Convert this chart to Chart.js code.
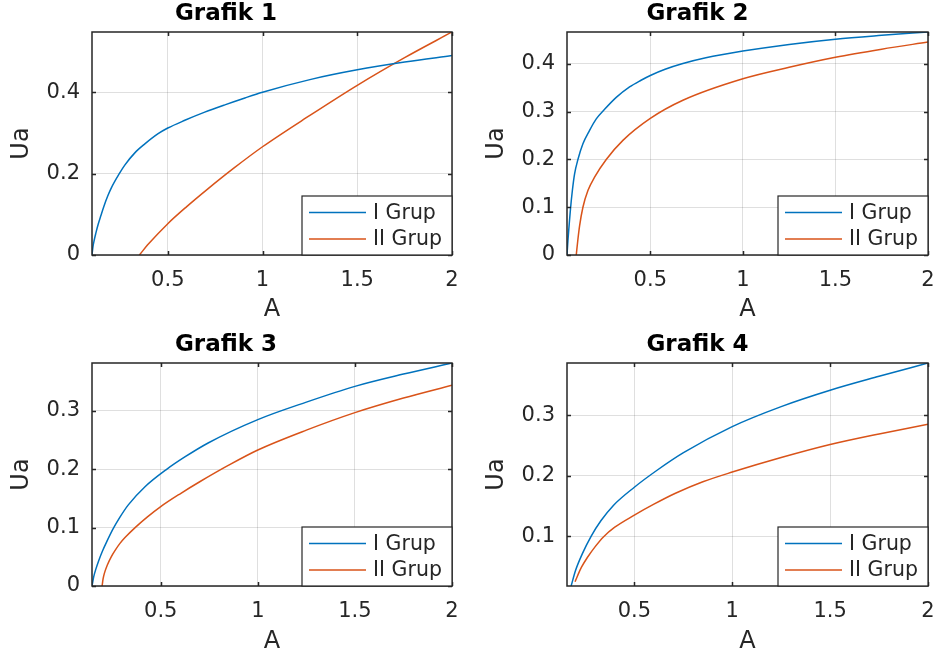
<!DOCTYPE html>
<html>
<head>
<meta charset="utf-8">
<title>Grafik</title>
<script src="https://cdn.jsdelivr.net/npm/chart.js@4.4.1/dist/chart.umd.min.js"></script>
<style>
  body { margin: 0; background: #fff; }
  #wrap { position: relative; width: 935px; height: 659px; overflow: hidden; }
  canvas { position: absolute; }
</style>
</head>
<body>
<div id="wrap">
  <canvas id="g1" width="467" height="330" style="left:0;top:0"></canvas>
  <canvas id="g2" width="468" height="330" style="left:467px;top:0"></canvas>
  <canvas id="g3" width="467" height="329" style="left:0;top:330px"></canvas>
  <canvas id="g4" width="468" height="329" style="left:467px;top:330px"></canvas>
</div>
<script>
// series names
const seriesNames = ["I Grup", "II Grup"];

// Grafik 1
const g1_x_I  = [0.1, 0.105, 0.111, 0.12, 0.133, 0.147, 0.163, 0.183, 0.204, 0.244, 0.273, 0.326, 0.379, 0.449, 0.5, 0.59, 0.695, 0.801, 0.907, 1.0, 1.25, 1.5, 1.75, 2.0];
const g1_y_I  = [0, 0.02, 0.035, 0.053, 0.076, 0.097, 0.12, 0.145, 0.167, 0.2, 0.221, 0.251, 0.273, 0.298, 0.312, 0.331, 0.351, 0.369, 0.386, 0.4, 0.431, 0.455, 0.474, 0.49];
const g1_x_II = [0.35, 0.4, 0.5, 0.6, 0.71, 0.85, 1.0, 1.25, 1.5, 1.75, 2.0];
const g1_y_II = [0, 0.028, 0.077, 0.119, 0.162, 0.214, 0.266, 0.343, 0.417, 0.485, 0.548];
const g1_xRange = [0.1, 2];
const g1_yRange = [0, 0.548];
const g1_xTicks = [0.5, 1, 1.5, 2];
const g1_yTicks = [0, 0.2, 0.4];

// Grafik 2
const g2_x_I  = [0.05, 0.055, 0.061, 0.068, 0.079, 0.091, 0.109, 0.136, 0.172, 0.208, 0.253, 0.316, 0.388, 0.45, 0.5, 0.58, 0.676, 0.8, 1.0, 1.25, 1.5, 1.75, 2.0];
const g2_y_I  = [0, 0.03, 0.06, 0.093, 0.135, 0.17, 0.2, 0.233, 0.261, 0.285, 0.305, 0.33, 0.352, 0.366, 0.376, 0.389, 0.401, 0.413, 0.427, 0.441, 0.452, 0.46, 0.467];
const g2_x_II = [0.1, 0.109, 0.118, 0.136, 0.163, 0.199, 0.262, 0.352, 0.5, 0.676, 1.0, 1.25, 1.5, 1.75, 2.0];
const g2_y_II = [0, 0.033, 0.061, 0.1, 0.135, 0.163, 0.2, 0.24, 0.286, 0.324, 0.369, 0.393, 0.414, 0.431, 0.446];
const g2_xRange = [0.05, 2];
const g2_yRange = [0, 0.467];
const g2_xTicks = [0.5, 1, 1.5, 2];
const g2_yTicks = [0, 0.1, 0.2, 0.3, 0.4];

// Grafik 3
const g3_x_I  = [0.146, 0.155, 0.165, 0.18, 0.2, 0.222, 0.253, 0.29, 0.333, 0.419, 0.527, 0.624, 0.744, 1.0, 1.25, 1.5, 1.75, 2.0];
const g3_y_I  = [0, 0.016, 0.028, 0.043, 0.06, 0.076, 0.097, 0.118, 0.139, 0.17, 0.199, 0.221, 0.245, 0.285, 0.315, 0.342, 0.363, 0.382];
const g3_x_II = [0.198, 0.203, 0.21, 0.225, 0.245, 0.265, 0.29, 0.316, 0.368, 0.43, 0.5, 0.6, 0.703, 0.85, 1.0, 1.25, 1.5, 1.75, 2.0];
const g3_y_II = [0, 0.012, 0.022, 0.036, 0.05, 0.061, 0.073, 0.083, 0.1, 0.118, 0.136, 0.158, 0.179, 0.207, 0.233, 0.267, 0.297, 0.322, 0.344];
const g3_xRange = [0.146, 2];
const g3_yRange = [0, 0.382];
const g3_xTicks = [0.5, 1, 1.5, 2];
const g3_yTicks = [0, 0.1, 0.2, 0.3];

// Grafik 4
const g4_x_I  = [0.177, 0.2, 0.234, 0.279, 0.33, 0.393, 0.5, 0.616, 0.751, 1.0, 1.25, 1.5, 1.75, 2.0];
const g4_y_I  = [0.018, 0.044, 0.071, 0.1, 0.126, 0.151, 0.181, 0.209, 0.238, 0.281, 0.314, 0.341, 0.364, 0.386];
const g4_x_II = [0.197, 0.21, 0.23, 0.26, 0.3, 0.342, 0.4, 0.5, 0.6, 0.71, 0.85, 1.0, 1.25, 1.5, 1.75, 2.0];
const g4_y_II = [0.025, 0.035, 0.049, 0.065, 0.083, 0.099, 0.115, 0.135, 0.153, 0.171, 0.19, 0.206, 0.23, 0.2515, 0.269, 0.285];
const g4_xRange = [0.156, 2];
const g4_yRange = [0.018, 0.386];
const g4_xTicks = [0.5, 1, 1.5, 2];
const g4_yTicks = [0.1, 0.2, 0.3];

const BLUE = "#0072BD";
const ORANGE = "#D95319";
const AXIS = "#262626";
const FONT = "'DejaVu Sans', sans-serif";

const toPoints = (xs, ys) => xs.map((x, i) => ({ x: x, y: ys[i] }));

// matlab-like box with inward ticks + legend inside lower right corner
const boxAndLegend = {
  id: "boxAndLegend",
  afterDatasetsDraw(chart) {
    const { ctx, chartArea: a, scales } = chart;
    const sx = scales.x, sy = scales.y;
    ctx.save();
    ctx.strokeStyle = AXIS;
    ctx.lineWidth = 1.5;
    ctx.beginPath();
    sx.ticks.forEach(t => {
      const px = Math.round(sx.getPixelForValue(t.value)) + 0.5;
      ctx.moveTo(px, a.bottom); ctx.lineTo(px, a.bottom - 4);
      ctx.moveTo(px, a.top); ctx.lineTo(px, a.top + 4);
    });
    sy.ticks.forEach(t => {
      const py = Math.round(sy.getPixelForValue(t.value)) + 0.5;
      ctx.moveTo(a.left, py); ctx.lineTo(a.left + 4, py);
      ctx.moveTo(a.right, py); ctx.lineTo(a.right - 4, py);
    });
    ctx.stroke();
    ctx.strokeRect(a.left, a.top, a.right - a.left, a.bottom - a.top);

    // legend
    const w = 150, h = 59;
    const lx = a.right - w, ly = a.bottom - h;
    ctx.fillStyle = "#fff";
    ctx.fillRect(lx, ly, w, h);
    ctx.lineWidth = 1.2;
    ctx.strokeRect(lx, ly, w, h);
    ctx.font = "20.5px " + FONT;
    ctx.textBaseline = "middle";
    ctx.textAlign = "left";
    chart.data.datasets.forEach((ds, i) => {
      const yy = ly + 16.5 + i * 26.5;
      ctx.strokeStyle = ds.borderColor;
      ctx.lineWidth = 1.5;
      ctx.beginPath();
      ctx.moveTo(lx + 7, yy); ctx.lineTo(lx + 64, yy);
      ctx.stroke();
      ctx.fillStyle = AXIS;
      ctx.fillText(ds.label, lx + 71, yy + 1);
    });
    ctx.restore();
  }
};

function makePlot(id, title, xI, yI, xII, yII, xRange, yRange, xTicks, yTicks, lay) {
  const ctx = document.getElementById(id).getContext("2d");
  const titleSize = 23, axisSize = 24;
  const tLh = titleSize * 1.2, aLh = axisSize * 1.2;
  return new Chart(ctx, {
    type: "line",
    data: {
      datasets: [
        { label: seriesNames[0], data: toPoints(xI, yI), borderColor: BLUE, borderWidth: 1.5,
          pointRadius: 0, cubicInterpolationMode: "monotone", fill: false },
        { label: seriesNames[1], data: toPoints(xII, yII), borderColor: ORANGE, borderWidth: 1.5,
          pointRadius: 0, cubicInterpolationMode: "monotone", fill: false }
      ]
    },
    options: {
      responsive: false,
      animation: false,
      events: [],
      layout: { padding: { left: 0, right: lay.padRight, top: 0, bottom: 0 } },
      plugins: {
        legend: { display: false },
        tooltip: { enabled: false },
        title: {
          display: true,
          text: title,
          color: "#000",
          font: { family: FONT, size: titleSize, weight: "bold", lineHeight: 1.2 },
          padding: { top: lay.titleC - tLh / 2, bottom: lay.titleH - tLh - (lay.titleC - tLh / 2) }
        }
      },
      scales: {
        x: {
          type: "linear",
          min: xRange[0],
          max: xRange[1],
          afterBuildTicks: s => { s.ticks = xTicks.map(v => ({ value: v })); },
          afterFit: s => { s.height = lay.xH; },
          // label gap done with an invisible tick so it does not widen the side padding
          ticks: { color: AXIS, font: { family: FONT, size: 21 }, padding: 0, maxRotation: 0,
                   autoSkip: false, callback: v => String(v) },
          grid: { color: "rgba(38,38,38,0.15)", lineWidth: 1, drawTicks: true, tickLength: 13,
                  tickColor: "rgba(0,0,0,0)" },
          border: { display: false },
          title: { display: true, text: "A", color: AXIS, font: { family: FONT, size: axisSize, lineHeight: 1.2 },
                   padding: { top: 0, bottom: lay.xH - lay.xTitleC - aLh / 2 } }
        },
        y: {
          type: "linear",
          min: yRange[0],
          max: yRange[1],
          afterBuildTicks: s => { s.ticks = yTicks.map(v => ({ value: v })); },
          afterFit: s => { s.width = lay.yW; },
          ticks: { color: AXIS, font: { family: FONT, size: 21 }, padding: 12, autoSkip: false,
                   callback: v => String(v) },
          grid: { color: "rgba(38,38,38,0.15)", lineWidth: 1, drawTicks: false },
          border: { display: false },
          title: { display: true, text: "Ua", color: AXIS, font: { family: FONT, size: axisSize, lineHeight: 1.2 },
                   padding: { top: lay.yTitleC - aLh / 2, bottom: 0 } }
        }
      }
    },
    plugins: [boxAndLegend]
  });
}

// lay: titleC = title centre from canvas top, xTitleC = "A" centre below plot bottom, yTitleC = "Ua" centre from canvas left
makePlot("g1", "Grafik 1", g1_x_I, g1_y_I, g1_x_II, g1_y_II, g1_xRange, g1_yRange, g1_xTicks, g1_yTicks,
  { padRight: 15, titleC: 14, titleH: 32, xH: 75, xTitleC: 55, yW: 92, yTitleC: 21.7 });
makePlot("g2", "Grafik 2", g2_x_I, g2_y_I, g2_x_II, g2_y_II, g2_xRange, g2_yRange, g2_xTicks, g2_yTicks,
  { padRight: 7, titleC: 14, titleH: 32, xH: 75, xTitleC: 55, yW: 100, yTitleC: 29.7 });
makePlot("g3", "Grafik 3", g3_x_I, g3_y_I, g3_x_II, g3_y_II, g3_xRange, g3_yRange, g3_xTicks, g3_yTicks,
  { padRight: 15, titleC: 15.3, titleH: 33, xH: 73, xTitleC: 56, yW: 92, yTitleC: 22 });
makePlot("g4", "Grafik 4", g4_x_I, g4_y_I, g4_x_II, g4_y_II, g4_xRange, g4_yRange, g4_xTicks, g4_yTicks,
  { padRight: 7, titleC: 15.3, titleH: 33, xH: 73, xTitleC: 56, yW: 100, yTitleC: 30 });
</script>
</body>
</html>
